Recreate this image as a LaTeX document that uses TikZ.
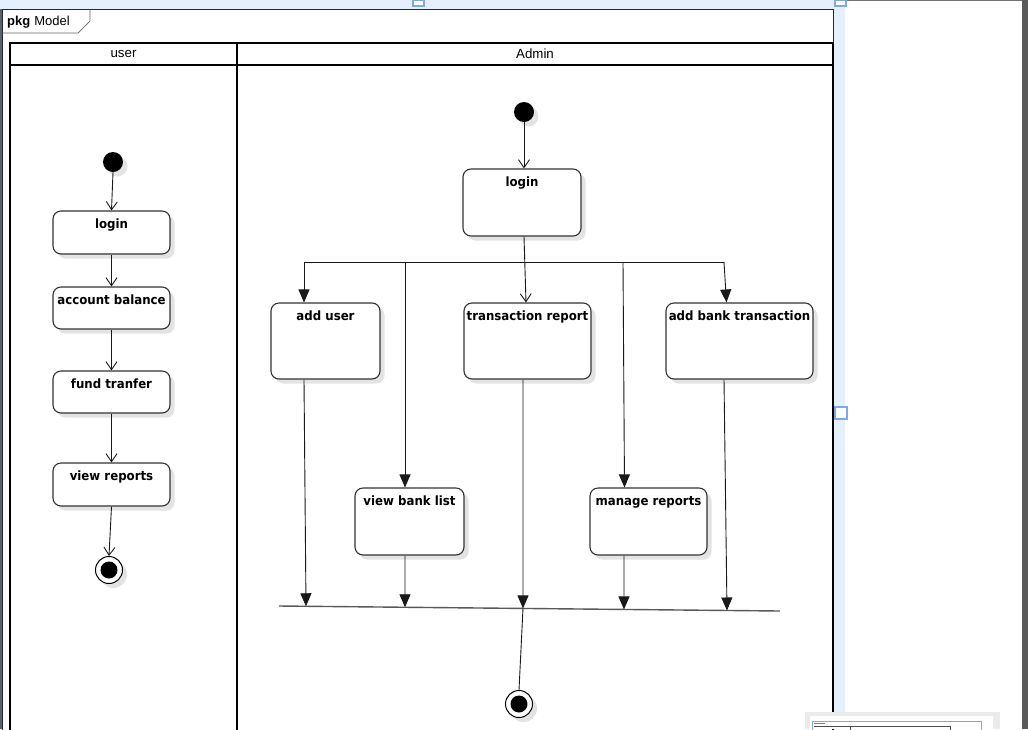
\documentclass[tikz,border=0pt]{standalone}
\usepackage{fontspec}
\setmainfont{Liberation Sans}
\newfontfamily\actfont{DejaVu Sans}[FakeStretch=0.92]
\usetikzlibrary{arrows.meta,calc,shadows}

% label block of an action: width, height, text set near the top
\newcommand{\acttext}[3]{\parbox[c][#2pt][t]{#1pt}{\centering\rule{0pt}{17pt}#3}}

\definecolor{selband}{HTML}{E6F0FD}
\definecolor{selhandle}{HTML}{7EA9E6}
\definecolor{framenavy}{HTML}{1B2A44}

\tikzset{
  softshadow/.style={drop shadow={shadow xshift=4.5pt, shadow yshift=-4.5pt, fill=black!11, opacity=1}},
  act/.style={draw=black!80, line width=1.1pt, rounded corners=8pt, fill=white,
    inner sep=0pt, softshadow, font=\actfont\bfseries\fontsize{12.8}{14}\selectfont},
  startdot/.style={circle, fill=black, minimum size=20pt, inner sep=0pt, softshadow},
  stopdot/.style={circle, draw=black, line width=1pt, fill=white, minimum size=27pt,
    inner sep=0pt, softshadow,
    path picture={\fill[black] (path picture bounding box.center) circle (8.5pt);}},
  hdr/.style={font=\fontsize{13.3}{15}\selectfont, inner sep=0pt},
  flow/.style={draw=black!90, line width=0.9pt},
  openarrow/.style={flow, -{Straight Barb[length=8pt,width=11pt,line width=0.9pt]}},
  fillarrow/.style={flow, -{Triangle[length=13pt,width=11pt]}},
  joinbar/.style={draw=black!65, line width=1.4pt},
  lane/.style={draw=black, line width=2pt},
}

\begin{document}
\begin{tikzpicture}[x=1pt, y=-1pt]
  \useasboundingbox (0,0) rectangle (1028,729);
  \fill[white] (0,0) rectangle (1028,729);

  % editor chrome: selection band, scroll bar, handles
  \fill[selband] (0,0) rectangle (845,8.5);
  \fill[selband] (834,0) rectangle (845,729);
  \fill[black!62] (0,9) rectangle (2,729);
  \fill[black!65] (1022,0) rectangle (1028,729);
  \draw[black!55, line width=1pt] (845,0.5) -- (1022,0.5);
  \draw[selhandle, fill=white, line width=1.2pt] (413,0) rectangle (424,6);
  \draw[selhandle, fill=white, line width=1.2pt] (835,0) rectangle (846,6);
  \draw[selhandle, fill=white, line width=1.2pt] (835,407) rectangle (847,419);

  % package frame with its tab
  \draw[framenavy, line width=1pt] (2.5,740) -- (2.5,9.5) -- (833.5,9.5) -- (833.5,740);
  \draw[black!60, line width=0.7pt] (2.5,33) -- (78,33) -- (90,21) -- (90,9.5);
  \node[anchor=base west, inner sep=0pt, font=\fontsize{13}{15}\selectfont] (pkg) at (7,25)
    {\textbf{pkg}\hspace{4pt}Model};

  % swimlanes
  \draw[lane] (10,740) -- (10,43) -- (833,43) -- (833,740);
  \draw[lane] (10,65) -- (833,65);
  \draw[lane] (237,43) -- (237,740);
  \node[hdr] (hu) at (123.5,54) {user};
  \node[hdr] (ha) at (535,54) {Admin};

  % user lane
  \node[startdot] (ui) at (113,162) {};
  \node[act] (ulogin) at (111.5,232.5) {\acttext{117}{43}{login}};
  \node[act] (ubal) at (111.5,308) {\acttext{117}{42}{account balance}};
  \node[act] (ufund) at (111.5,392) {\acttext{117}{42}{fund tranfer}};
  \node[act] (uview) at (111.5,484.5) {\acttext{117}{43}{view reports}};
  \node[stopdot] (uf) at (109,570) {};

  \draw[openarrow] (ui.south) -- (ulogin.north);
  \draw[openarrow] (ulogin) -- (ubal);
  \draw[openarrow] (ubal) -- (ufund);
  \draw[openarrow] (ufund) -- (uview);
  \draw[openarrow] (uview.south) -- (uf.north);

  % admin lane
  \node[startdot] (ai) at (524,112) {};
  \node[act] (alogin) at (522,202.5) {\acttext{118}{67}{login}};
  \node[act] (aadd) at (325.5,341) {\acttext{109}{76}{add user}};
  \node[act] (atrep) at (527.5,341) {\acttext{127}{76}{transaction report}};
  \node[act] (abank) at (739.5,341) {\acttext{147}{76}{add bank transaction}};
  \node[act] (alist) at (409.5,521.5) {\acttext{109}{67}{view bank list}};
  \node[act] (amng) at (648.5,521.5) {\acttext{117}{67}{manage reports}};
  \node[stopdot] (af) at (519,704) {};

  \draw[openarrow] (ai.south) -- (ai.south |- alogin.north);

  % fork
  \coordinate (fa) at (304,262);
  \coordinate (fb) at (405,262);
  \coordinate (fm) at (523,262);
  \coordinate (fc) at (623,262);
  \coordinate (fd) at (724,262);
  \draw[flow] (fa) -- (fd);
  \draw[openarrow] ($(alogin.south)+(2,0)$) -- ($(atrep.north)+(-1.5,0)$);
  \draw[fillarrow] (fa) -- (fa |- aadd.north);
  \draw[fillarrow] (fb) -- (fb |- alist.north);
  \draw[fillarrow] (fc) -- ($(fc |- amng.north)+(1.5,0)$);
  \draw[fillarrow] (fd) -- ($(fd |- abank.north)+(2.5,0)$);

  % join bar and the points where the flows meet it
  \coordinate (ja) at (279,606);
  \coordinate (jb) at (780,611);
  \draw[joinbar] (ja) -- (jb);
  \coordinate (j1) at ($(ja)!.0539!(jb)$);
  \coordinate (j2) at ($(ja)!.2515!(jb)$);
  \coordinate (jm) at ($(ja)!.4870!(jb)$);
  \coordinate (j4) at ($(ja)!.6886!(jb)$);
  \coordinate (j5) at ($(ja)!.8942!(jb)$);
  \draw[fillarrow] (fa |- aadd.south) -- (j1);
  \draw[fillarrow] (fb |- alist.south) -- (j2);
  \draw[fillarrow] (fm |- atrep.south) -- (jm);
  \draw[fillarrow] ($(fc |- amng.south)+(1,0)$) -- (j4);
  \draw[fillarrow] (fd |- abank.south) -- (j5);
  \draw[flow] (jm) -- (af.north);

  % overview panel in the corner
  \fill[black!8] (805,712) rectangle (1000,729);
  \fill[white] (810,716) rectangle (993,729);
  \draw[selhandle, line width=0.8pt] (812.5,721.5) rectangle (981,730);
  \draw[black!70, line width=0.5pt] (814,726) -- (950,726) -- (950,730);
  \draw[black!70, line width=0.5pt] (850,726) -- (850,730);
  \draw[black!50, line width=0.4pt] (814,723.5) -- (825,723.5);
\end{tikzpicture}
\end{document}
